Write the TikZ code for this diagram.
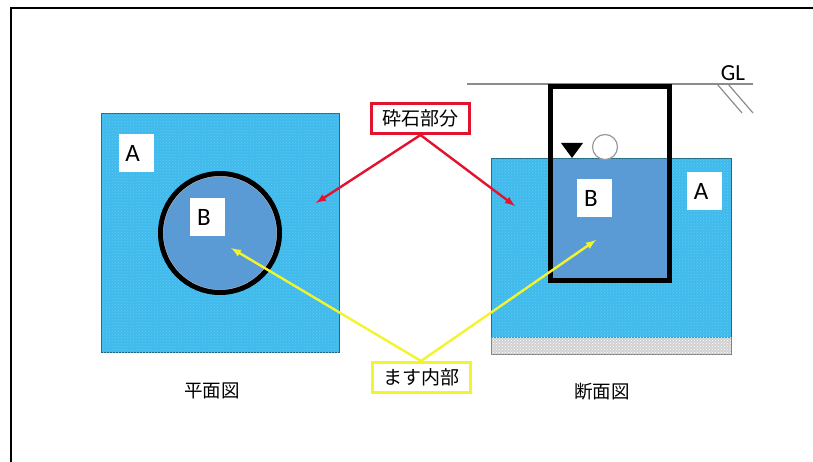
\documentclass[tikz,border=0pt]{standalone}
\usepackage{fontspec}
\setmainfont{Carlito}
\newfontfamily\jpfont{Noto Sans CJK JP}
\usetikzlibrary{patterns}
\definecolor{saiseki}{HTML}{3FBAEC}
\definecolor{masu}{HTML}{5B9BD5}
\definecolor{kiso}{HTML}{D2D2D2}
\definecolor{redline}{HTML}{E2132F}
\definecolor{yellowline}{HTML}{F2F52E}
\tikzset{
  saisekiarea/.style={fill=saiseki, draw=saiseki!55!black, line width=1pt,
    postaction={pattern=crosshatch dots, pattern color=saiseki!80!white}},
  kisoarea/.style={fill=kiso, draw=black!50, line width=1pt,
    postaction={pattern=crosshatch dots, pattern color=white}},
  letterbox/.style={fill=white, inner sep=0pt, minimum width=35pt, minimum height=38pt, font=\fontsize{25}{25}\selectfont},
  calloutbox/.style={fill=white, line width=3pt, inner sep=0pt, minimum width=98pt, minimum height=30pt, font=\jpfont\fontsize{19}{19}\selectfont},
  caption/.style={inner sep=0pt, font=\jpfont\fontsize{18.5}{19}\selectfont},
  thinline/.style={-, draw=black!45, line width=1.2pt},
  arrowline/.style={line width=2.4pt}
}
\begin{document}
\begin{tikzpicture}
  [-latex, x=1pt, y=-1pt]
  \useasboundingbox (0,0) rectangle (813,462);

  % Frame
  \draw[-, line width=2pt] (11,462) -- (11,8) -- (813,8);

  % Plan view
  \path[saisekiarea] (101,114) rectangle (339,352);
  \filldraw[fill=masu, draw=black!25, line width=1pt] (220,233) circle (57);
  \draw[line width=5pt] (220,233) circle (59.5);
  \node[letterbox] (planA) at (136,153) {A\kern7pt};
  \node[letterbox] (planB) at (207.5,217.5) {B\kern7pt};
  \node[caption] (plancap) at (212,391) {平面図};

  % Section view
  \path[saisekiarea] (491,159) rectangle (731,337);
  \path[kisoarea] (491,337) rectangle (731,354);
  \fill[masu] (552,159) rectangle (668,279);
  \draw[thinline] (467,84) -- (753,84);
  \draw[-, line width=5pt] (550.5,86.5) rectangle (669.5,280.5);
  \draw[thinline] (717,84) -- (742,113);
  \draw[thinline] (728,84) -- (753,113);
  \node[inner sep=0pt, font=\fontsize{23}{23}\selectfont] (gl) at (733,73) {GL};
  \fill (561,143) -- (583,143) -- (572,158) -- cycle;
  \draw[-, draw=black!40, fill=white, line width=1.2pt] (605,147) circle (12.5);
  \node[letterbox] (sectA) at (704.5,191) {A\kern7pt};
  \node[letterbox] (sectB) at (594.5,198.5) {B\kern7pt};
  \node[caption] (sectcap) at (602,392) {断面図};

  % Callouts
  \node[calloutbox, draw=redline] (redbox) at (420.5,118.5) {砕石部分};
  \node[calloutbox, draw=yellowline] (yellowbox) at (421,377.5) {ます内部};

  % Arrow ends
  \coordinate (redL) at (316,203);
  \coordinate (redR) at (515,206);
  \coordinate (yellowL) at (231,248);
  \coordinate (yellowR) at (596,240);

  % Connecting the callouts
  \draw[redline, arrowline] (redbox.south) -- (redL);
  \draw[redline, arrowline] (redbox.south) -- (redR);
  \draw[yellowline, arrowline] (yellowbox.north) -- (yellowL);
  \draw[yellowline, arrowline] (yellowbox.north) -- (yellowR);
\end{tikzpicture}
\end{document}
